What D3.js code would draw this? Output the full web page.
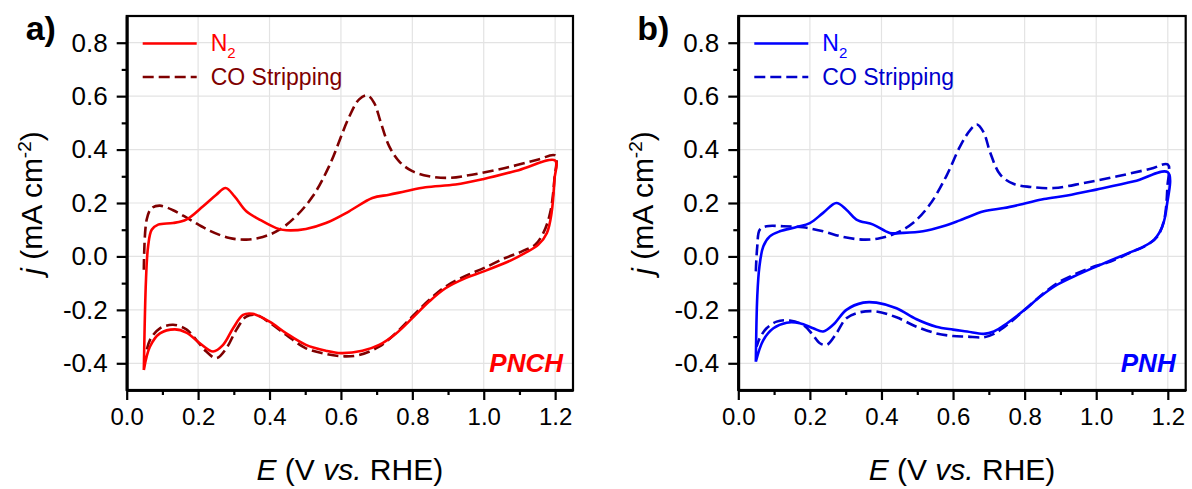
<!DOCTYPE html>
<html>
<head>
<meta charset="utf-8">
<script src="https://cdn.jsdelivr.net/npm/d3@7"></script>
<style>
  body { margin: 0; background: #fff; }
  svg text { font-family: Arial, "Liberation Sans", sans-serif; }
</style>
</head>
<body>
<script>
// ---- data: potential (V vs RHE) and current density (mA cm-2), forward scan then back ----

// panel a) PNCH, N2
var pnchN2E = [0.048, 0.054, 0.060, 0.070, 0.088, 0.130, 0.167, 0.214, 0.251, 0.277, 0.302, 0.335,
  0.372, 0.419, 0.447, 0.502, 0.558, 0.623, 0.688, 0.735, 0.781, 0.837, 0.921, 1.000, 1.098, 1.200,
  1.198, 1.190, 1.177, 1.153, 1.116, 1.079, 1.000, 0.949, 0.893, 0.847, 0.800, 0.753, 0.707, 0.660,
  0.600, 0.558, 0.502, 0.447, 0.400, 0.353, 0.326, 0.298, 0.270, 0.242, 0.205, 0.167, 0.135, 0.093,
  0.065, 0.048];
var pnchN2J = [-0.425, -0.088, 0.038, 0.100, 0.119, 0.125, 0.138, 0.188, 0.231, 0.256, 0.225, 0.169,
  0.138, 0.106, 0.098, 0.103, 0.125, 0.169, 0.219, 0.231, 0.244, 0.259, 0.269, 0.290, 0.323, 0.359,
  0.288, 0.163, 0.088, 0.044, 0.013, -0.013, -0.056, -0.081, -0.119, -0.169, -0.231, -0.290, -0.331, -0.353,
  -0.362, -0.353, -0.331, -0.288, -0.244, -0.215, -0.219, -0.269, -0.331, -0.356, -0.325, -0.285, -0.273, -0.288,
  -0.338, -0.425];

// panel a) PNCH, CO stripping
var pnchCOE = [0.048, 0.056, 0.070, 0.093, 0.130, 0.177, 0.233, 0.288, 0.335, 0.381, 0.428, 0.474,
  0.521, 0.567, 0.623, 0.651, 0.674, 0.693, 0.712, 0.735, 0.763, 0.800, 0.847, 0.902, 0.967, 1.060,
  1.153, 1.200,
  1.198, 1.186, 1.167, 1.144, 1.107, 1.060, 1.000, 0.949, 0.893, 0.847, 0.800, 0.753, 0.707, 0.651,
  0.610, 0.558, 0.502, 0.447, 0.400, 0.363, 0.335, 0.307, 0.279, 0.251, 0.223, 0.195, 0.167, 0.130,
  0.093, 0.065, 0.054];
var pnchCOJ = [-0.050, 0.138, 0.181, 0.190, 0.173, 0.138, 0.096, 0.069, 0.063, 0.073, 0.100, 0.150,
  0.225, 0.338, 0.522, 0.588, 0.603, 0.575, 0.500, 0.413, 0.356, 0.319, 0.300, 0.294, 0.306, 0.331,
  0.363, 0.378,
  0.290, 0.163, 0.088, 0.044, 0.019, -0.006, -0.044, -0.073, -0.113, -0.163, -0.225, -0.288, -0.338, -0.369,
  -0.374, -0.365, -0.344, -0.294, -0.248, -0.219, -0.225, -0.275, -0.344, -0.381, -0.356, -0.313, -0.273, -0.256,
  -0.269, -0.313, -0.363];

// panel b) PNH, N2
var pnhN2E = [0.049, 0.053, 0.059, 0.070, 0.088, 0.116, 0.163, 0.200, 0.237, 0.274, 0.302, 0.330,
  0.377, 0.423, 0.460, 0.516, 0.572, 0.619, 0.686, 0.742, 0.800, 0.854, 0.919, 1.000, 1.106, 1.200,
  1.197, 1.185, 1.162, 1.134, 1.078, 1.000, 0.947, 0.891, 0.844, 0.800, 0.751, 0.714, 0.686, 0.639,
  0.600, 0.553, 0.498, 0.442, 0.386, 0.349, 0.302, 0.265, 0.237, 0.209, 0.172, 0.135, 0.098, 0.070,
  0.049];
var pnhN2J = [-0.394, -0.150, -0.038, 0.038, 0.075, 0.094, 0.110, 0.125, 0.163, 0.200, 0.175, 0.138,
  0.119, 0.088, 0.088, 0.094, 0.113, 0.135, 0.169, 0.181, 0.198, 0.215, 0.228, 0.250, 0.281, 0.315,
  0.188, 0.113, 0.063, 0.038, 0.006, -0.038, -0.069, -0.106, -0.150, -0.200, -0.250, -0.281, -0.290, -0.281,
  -0.274, -0.263, -0.235, -0.194, -0.173, -0.173, -0.200, -0.256, -0.281, -0.269, -0.250, -0.248, -0.269, -0.313,
  -0.394];

// panel b) PNH, CO stripping
var pnhCOE = [0.049, 0.053, 0.060, 0.079, 0.126, 0.181, 0.237, 0.293, 0.349, 0.395, 0.442, 0.488,
  0.535, 0.581, 0.620, 0.649, 0.667, 0.686, 0.704, 0.732, 0.770, 0.816, 0.882, 0.966, 1.059, 1.152,
  1.200,
  1.199, 1.190, 1.171, 1.143, 1.096, 1.040, 1.000, 0.947, 0.891, 0.844, 0.800, 0.751, 0.714, 0.686,
  0.639, 0.600, 0.553, 0.498, 0.442, 0.386, 0.340, 0.302, 0.274, 0.247, 0.228, 0.205, 0.181, 0.144,
  0.107, 0.079, 0.060, 0.051];
var pnhCOJ = [-0.056, 0.038, 0.100, 0.113, 0.113, 0.109, 0.094, 0.073, 0.063, 0.068, 0.088, 0.125,
  0.194, 0.300, 0.413, 0.475, 0.494, 0.463, 0.388, 0.306, 0.271, 0.260, 0.256, 0.275, 0.300, 0.328,
  0.344,
  0.263, 0.138, 0.075, 0.044, 0.015, -0.019, -0.035, -0.063, -0.100, -0.148, -0.200, -0.256, -0.290, -0.303,
  -0.300, -0.298, -0.288, -0.263, -0.228, -0.206, -0.209, -0.231, -0.288, -0.331, -0.325, -0.288, -0.256, -0.240,
  -0.244, -0.269, -0.306, -0.338];

// axis ticks
var xMajorTicks = [0.0, 0.2, 0.4, 0.6, 0.8, 1.0, 1.2];
var xMinorTicks = [0.1, 0.3, 0.5, 0.7, 0.9, 1.1];
var yMajorTicks = [-0.4, -0.2, 0.0, 0.2, 0.4, 0.6, 0.8];
var yMinorTicks = [-0.3, -0.1, 0.1, 0.3, 0.5, 0.7];

var legendLabels = ["N2", "CO Stripping"];

// ---- layout ----
var width = 1192, height = 489;
var plotTop = 16, plotBottom = 390;

var svg = d3.select("body")
            .append("svg")
            .attr("width", width)
            .attr("height", height);

function zip(es, js) {
  return es.map(function(e, i) { return [e, js[i]]; });
}

function drawPanel(p) {
  /*
  draws one CV panel: grid, curves, axes, frame, legend and labels
  */
  var x = d3.scaleLinear().domain([0, 1.25]).range([p.left, p.right]);
  var y = d3.scaleLinear().domain([-0.5, 0.9]).range([plotBottom, plotTop]);

  var g = svg.append("g");

  // grid
  g.selectAll(".gx")
   .data(xMajorTicks.slice(1))
   .enter()
   .append("line")
   .attr("x1", function(d) { return x(d); })
   .attr("x2", function(d) { return x(d); })
   .attr("y1", plotTop)
   .attr("y2", plotBottom)
   .attr("stroke", "#e3e3e3")
   .attr("stroke-width", 1.2);
  g.selectAll(".gy")
   .data(yMajorTicks)
   .enter()
   .append("line")
   .attr("x1", p.left)
   .attr("x2", p.right)
   .attr("y1", function(d) { return y(d); })
   .attr("y2", function(d) { return y(d); })
   .attr("stroke", "#e3e3e3")
   .attr("stroke-width", 1.2);

  // curves
  var line = d3.line()
               .x(function(d) { return x(d[0]); })
               .y(function(d) { return y(d[1]); })
               .curve(d3.curveCatmullRom.alpha(0.5));

  g.append("path")
   .datum(zip(p.coE, p.coJ))
   .attr("d", line)
   .attr("fill", "none")
   .attr("stroke", p.coColor)
   .attr("stroke-width", 2.6)
   .attr("stroke-dasharray", "11,5");

  g.append("path")
   .datum(zip(p.n2E, p.n2J))
   .attr("d", line)
   .attr("fill", "none")
   .attr("stroke", p.n2Color)
   .attr("stroke-width", 2.6);

  // frame (top and right)
  g.append("rect")
   .attr("x", p.left)
   .attr("y", plotTop)
   .attr("width", p.right - p.left)
   .attr("height", plotBottom - plotTop)
   .attr("fill", "none")
   .attr("stroke", "black")
   .attr("stroke-width", 2.2);

  // axes
  var fmt = function(d) { return d.toFixed(1); };

  g.append("g")
   .attr("class", "xaxis")
   .attr("transform", "translate(0," + plotBottom + ")")
   .call(d3.axisBottom(x).tickValues(xMajorTicks).tickFormat(fmt)
           .tickSize(10).tickSizeOuter(0).tickPadding(8));
  g.append("g")
   .attr("transform", "translate(0," + plotBottom + ")")
   .call(d3.axisBottom(x).tickValues(xMinorTicks).tickFormat("")
           .tickSize(5).tickSizeOuter(0));

  g.append("g")
   .attr("class", "yaxis")
   .attr("transform", "translate(" + p.left + ",0)")
   .call(d3.axisLeft(y).tickValues(yMajorTicks).tickFormat(fmt)
           .tickSize(10).tickSizeOuter(0).tickPadding(9));
  g.append("g")
   .attr("transform", "translate(" + p.left + ",0)")
   .call(d3.axisLeft(y).tickValues(yMinorTicks).tickFormat("")
           .tickSize(5).tickSizeOuter(0));

  g.selectAll(".domain").attr("stroke-width", 2.6);
  g.selectAll(".tick line").attr("stroke-width", 2.2);
  g.selectAll(".tick text")
   .style("font-family", "Arial, 'Liberation Sans', sans-serif")
   .attr("fill", "black");
  g.selectAll(".xaxis .tick text").style("font-size", "24px");
  g.selectAll(".yaxis .tick text").style("font-size", "26px");

  // axis titles
  var xt = g.append("text")
            .attr("x", (p.left + p.right) / 2)
            .attr("y", 480)
            .attr("text-anchor", "middle")
            .style("font-size", "30px");
  xt.append("tspan").style("font-style", "italic").text("E");
  xt.append("tspan").text(" (V ");
  xt.append("tspan").style("font-style", "italic").text("vs.");
  xt.append("tspan").text(" RHE)");

  var yt = g.append("text")
            .attr("transform", "translate(" + (p.left - 85) + "," +
                  (plotTop + plotBottom) / 2 + ") rotate(-90)")
            .attr("text-anchor", "middle")
            .style("font-size", "30px");
  yt.append("tspan").style("font-style", "italic").text("j");
  yt.append("tspan").text(" (mA cm");
  yt.append("tspan").attr("dy", -11).style("font-size", "19px").text("-2");
  yt.append("tspan").attr("dy", 11).text(")");

  // legend
  var lg = g.append("g");
  lg.append("line")
    .attr("x1", p.left + 16).attr("x2", p.left + 70)
    .attr("y1", 43.5).attr("y2", 43.5)
    .attr("stroke", p.n2Color).attr("stroke-width", 2.6);
  lg.append("line")
    .attr("x1", p.left + 16).attr("x2", p.left + 70)
    .attr("y1", 77).attr("y2", 77)
    .attr("stroke", p.coColor).attr("stroke-width", 2.6)
    .attr("stroke-dasharray", "11,5");
  var t1 = lg.append("text")
             .attr("x", p.left + 84).attr("y", 51)
             .attr("fill", p.n2Color)
             .style("font-size", "23px");
  t1.append("tspan").text(legendLabels[0].charAt(0));
  t1.append("tspan").attr("dy", 7).style("font-size", "15px").text(legendLabels[0].charAt(1));
  lg.append("text")
    .attr("x", p.left + 84).attr("y", 85)
    .attr("fill", p.coColor)
    .style("font-size", "23px")
    .text(legendLabels[1]);

  // sample name
  g.append("text")
   .attr("x", p.right - 10).attr("y", 372)
   .attr("text-anchor", "end")
   .attr("fill", p.n2Color)
   .style("font-size", "26px")
   .style("font-weight", "bold")
   .style("font-style", "italic")
   .text(p.name);

  // panel letter
  g.append("text")
   .attr("x", p.left - 101).attr("y", 40)
   .style("font-size", "34px")
   .style("font-weight", "bold")
   .text(p.letter);
}

drawPanel({
  left: 126.7, right: 573, letter: "a)", name: "PNCH",
  n2E: pnchN2E, n2J: pnchN2J, coE: pnchCOE, coJ: pnchCOJ,
  n2Color: "#ff0000", coColor: "#7f0000"
});

drawPanel({
  left: 738.3, right: 1185.7, letter: "b)", name: "PNH",
  n2E: pnhN2E, n2J: pnhN2J, coE: pnhCOE, coJ: pnhCOJ,
  n2Color: "#0000ff", coColor: "#0000cc"
});
</script>
</body>
</html>
